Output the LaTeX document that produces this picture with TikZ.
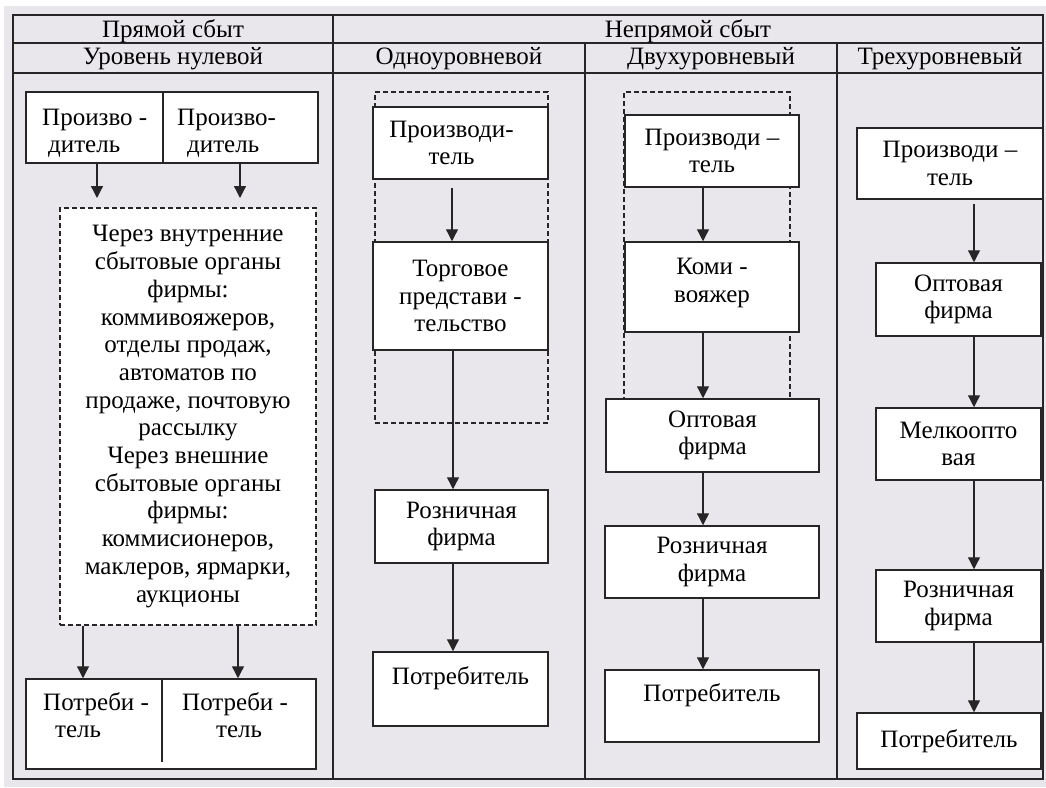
\documentclass[tikz,border=0pt]{standalone}
\usepackage{fontspec}
\setmainfont{Liberation Serif}
\usetikzlibrary{arrows.meta}
\definecolor{bg}{HTML}{E9E7EC}
\definecolor{lc}{HTML}{262626}
\newcommand\bodyf{\fontsize{25}{27.7}\selectfont}
\begin{document}
\begin{tikzpicture}[x=1pt,y=-1pt,
  tline/.style={draw=lc, line width=1.6pt},
  box/.style={draw=lc, line width=1.5pt, fill=white, inner sep=0pt, align=center, font=\bodyf},
  dbox/.style={draw=lc, line width=1.2pt, dash pattern=on 5pt off 3pt, inner sep=0pt, align=center, font=\bodyf},
  txt/.style={inner sep=0pt, font=\bodyf},
  arr/.style={draw=lc, line width=1.3pt, -{Triangle[width=12pt,length=12pt]}},
]
\useasboundingbox (0,0) rectangle (1046,787);
\fill[white] (0,0) rectangle (1046,787);
\fill[bg] (4,6) rectangle (1046,787);

% table
\draw[tline] (13,15) rectangle (1043,779);
\draw[tline] (13,43) -- (1043,43);
\draw[draw=lc, line width=2.6pt] (13,73) -- (1043,73);
\draw[tline] (333,15) -- (333,779);
\draw[tline] (585,43) -- (585,779);
\draw[tline] (837,43) -- (837,779);

% headers
\node[txt] (h1) at (173,31) {Прямой сбыт};
\node[txt] (h2) at (688,31) {Непрямой сбыт};
\node[txt] (h3) at (173,59) {Уровень нулевой};
\node[txt] (h4) at (459,59) {Одноуровневой};
\node[txt] (h5) at (711,59) {Двухуровневый};
\node[txt] (h6) at (940,59) {Трехуровневый};

% column 1
\node[box, minimum width=137pt, minimum height=71pt] (p1l) at (94.5,127.5) {};
\node[box, minimum width=155pt, minimum height=71pt] (p1r) at (240.5,127.5) {};
\node[txt, anchor=base west] (t1a) at (42,125) {Произво -};
\node[txt, anchor=base west] (t1b) at (48,152) {дитель};
\node[txt, anchor=base west] (t1c) at (177,125) {Произво-};
\node[txt, anchor=base west] (t1d) at (187,152) {дитель};
\node[dbox, fill=white, minimum width=256pt, minimum height=417pt] (d1) at (188,416.5)
  {Через внутренние\\сбытовые органы\\фирмы:\\коммивояжеров,\\отделы продаж,\\автоматов по\\продаже, почтовую\\рассылку\\Через внешние\\сбытовые органы\\фирмы:\\коммисионеров,\\маклеров, ярмарки,\\аукционы};
\node[box, minimum width=290pt, minimum height=90pt] (c1) at (171,724) {};
\coordinate (cdiv) at (162,762);
\draw[draw=lc, line width=1.5pt] (c1.north -| cdiv) -- (cdiv);
\node[txt, anchor=base west] (t1e) at (43,710) {Потреби -};
\node[txt, anchor=base west] (t1f) at (55,737) {тель};
\node[txt, anchor=base west] (t1g) at (182,710) {Потреби -};
\node[txt, anchor=base west] (t1h) at (216,737) {тель};
\coordinate (a1e) at (97,198);
\coordinate (a2e) at (240,198);
\draw[arr] (p1l.south -| a1e) -- (a1e);
\draw[arr] (p1r.south -| a2e) -- (a2e);
\coordinate (x83) at (83,0);
\coordinate (x238) at (238,0);
\draw[arr] (d1.south -| x83) -- (c1.north -| x83);
\draw[arr] (d1.south -| x238) -- (c1.north -| x238);

% column 2
\node[dbox, minimum width=173pt, minimum height=331pt] (d2) at (461.5,257.5) {};
\node[box, minimum width=175pt, minimum height=72pt] (p2a) at (460.5,143) {\hspace*{-18pt}Производи-\\\hspace*{-18pt}тель};
\node[box, minimum width=175pt, minimum height=108pt] (p2b) at (460.5,296) {Торговое\\представи -\\тельство};
\node[box, minimum width=173pt, minimum height=73pt] (p2c) at (461.5,526.5) {Розничная\\фирма};
\node[box, minimum width=175pt, minimum height=74pt] (p2d) at (460.5,689) {Потребитель\\\mbox{}};
\coordinate (x452) at (452,0);
\coordinate (x453) at (453,0);
\draw[arr] ([yshift=-8pt]p2a.south -| x452) -- (p2b.north -| x452);
\draw[arr] (p2b.south -| x453) -- (p2c.north -| x453);
\draw[arr] (p2c.south -| x453) -- (p2d.north -| x453);

% column 3
\node[dbox, minimum width=166pt, minimum height=307pt] (d3) at (707,245.5) {};
\node[box, minimum width=174pt, minimum height=72pt] (p3a) at (712,151) {Производи –\\тель};
\node[box, minimum width=174pt, minimum height=90pt] (p3b) at (712,287) {Коми -\\вояжер\\[-14pt]\mbox{}};
\node[box, minimum width=213pt, minimum height=73pt] (p3c) at (712.5,435.5) {Оптовая\\фирма};
\node[box, minimum width=214pt, minimum height=72pt] (p3d) at (712,562) {Розничная\\фирма};
\node[box, minimum width=214pt, minimum height=72pt] (p3e) at (712,706) {Потребитель\\\mbox{}};
\coordinate (x703) at (703,0);
\draw[arr] (p3a.south -| x703) -- (p3b.north -| x703);
\draw[arr] (p3b.south -| x703) -- (p3c.north -| x703);
\draw[arr] (p3c.south -| x703) -- (p3d.north -| x703);
\draw[arr] (p3d.south -| x703) -- (p3e.north -| x703);

% column 4
\node[box, minimum width=186pt, minimum height=71pt] (p4a) at (950,163.5) {Производи –\\тель};
\node[box, minimum width=165pt, minimum height=73pt] (p4b) at (958.5,299.5) {Оптовая\\фирма};
\node[box, minimum width=165pt, minimum height=72pt] (p4c) at (958.5,444) {Мелкоопто\\вая};
\node[box, minimum width=165pt, minimum height=72pt] (p4d) at (958.5,606) {Розничная\\фирма};
\node[box, minimum width=184pt, minimum height=56pt] (p4e) at (949,741) {Потребитель};
\coordinate (x974) at (974,0);
\draw[arr] ([yshift=-4pt]p4a.south -| x974) -- (p4b.north -| x974);
\draw[arr] (p4b.south -| x974) -- (p4c.north -| x974);
\draw[arr] (p4c.south -| x974) -- (p4d.north -| x974);
\draw[arr] (p4d.south -| x974) -- (p4e.north -| x974);
\end{tikzpicture}
\end{document}
